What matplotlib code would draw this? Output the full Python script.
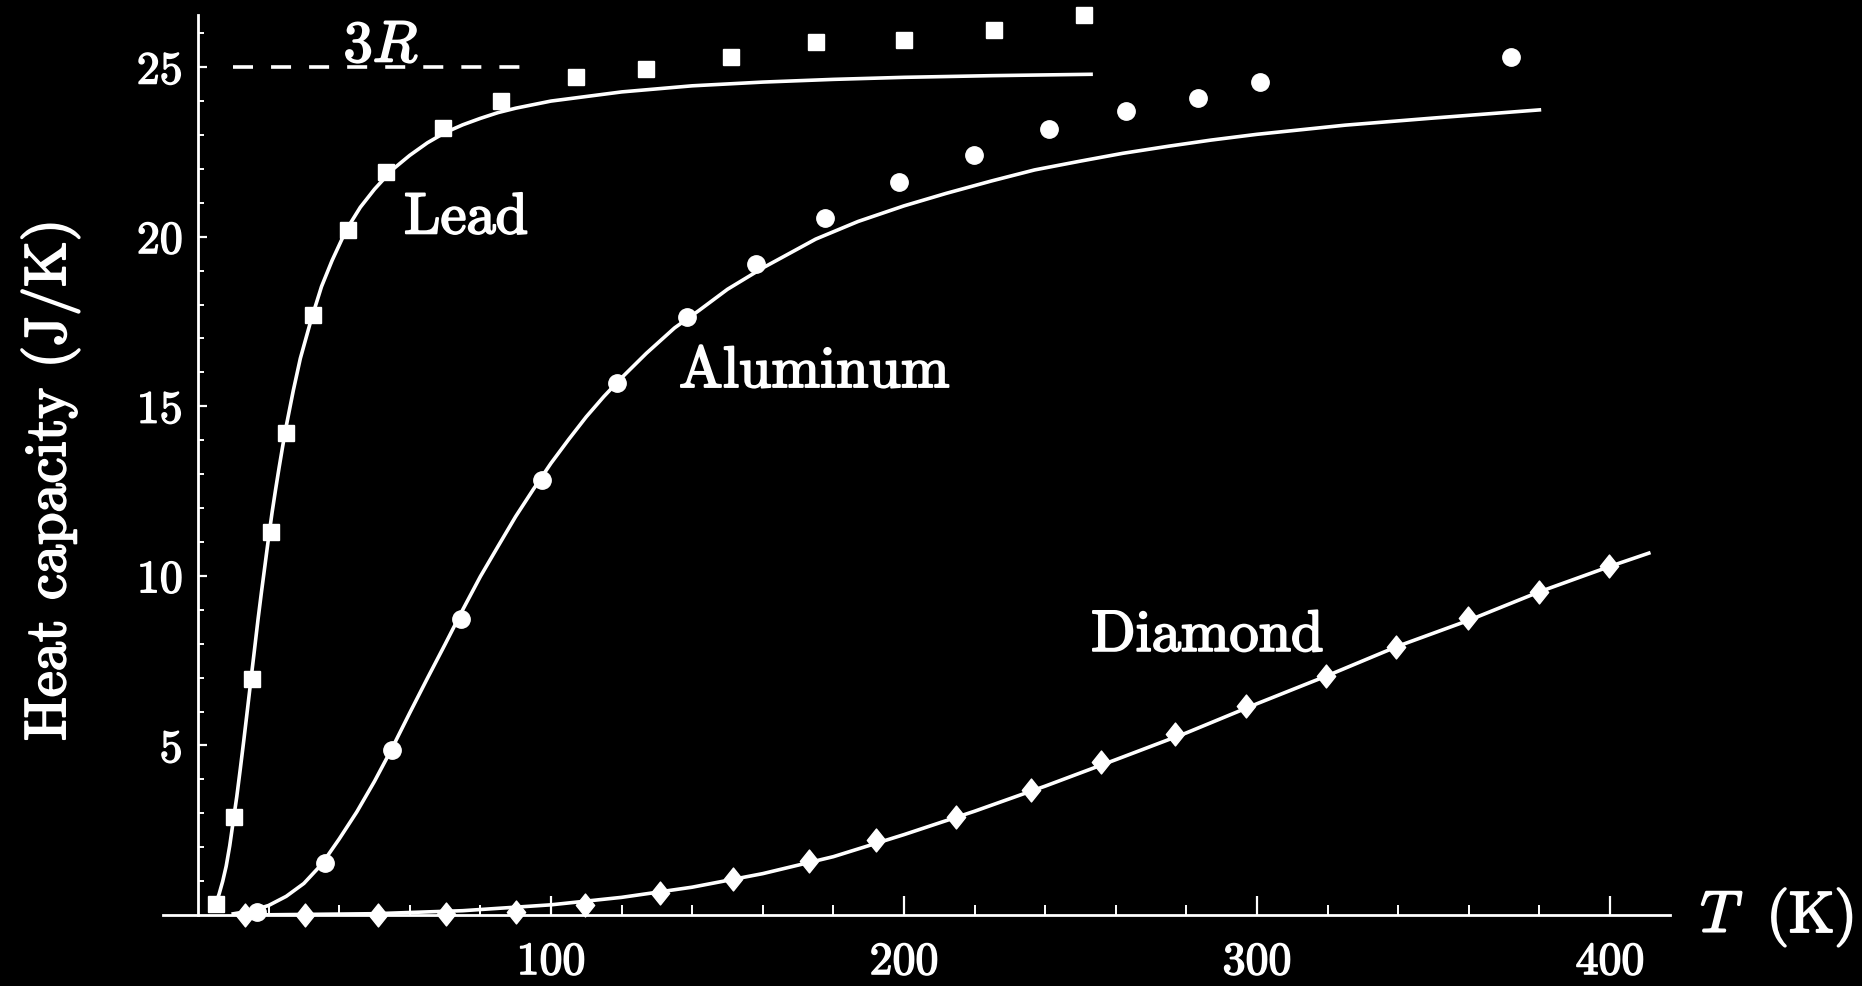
import matplotlib
matplotlib.use("Agg")
import matplotlib.pyplot as plt
import matplotlib.patheffects as pe
from matplotlib.path import Path
from matplotlib.ticker import FixedLocator

# Measured heat capacities (J/K per mole) versus temperature (K)
lead_T = [5.1, 10.2, 15.2, 20.6, 25, 32.7, 42.5, 53.2, 69.4, 85.8, 107, 127,
          151, 175, 200, 225.5, 251]
lead_C = [0.33, 2.9, 6.95, 11.3, 14.2, 17.7, 20.2, 21.9, 23.2, 24.0, 24.7,
          24.95, 25.3, 25.75, 25.8, 26.1, 26.55]

al_T = [16.7, 36, 54.9, 74.4, 97.6, 118.8, 138.4, 158, 177.7, 198.6, 219.8,
        241, 262.8, 283.3, 300.8, 372]
al_C = [0.1, 1.52, 4.87, 8.74, 12.84, 15.7, 17.63, 19.2, 20.54, 21.6, 22.4,
        23.17, 23.7, 24.08, 24.57, 25.3]

dia_T = [13.3, 30.4, 50.9, 70.4, 90.2, 109.7, 131, 151.5, 173, 192, 214.7,
         235.9, 255.7, 276.9, 297, 319.6, 339.5, 359.8, 380, 399.8]
dia_C = [0.0, 0.0, 0.0, 0.02, 0.1, 0.3, 0.66, 1.05, 1.6, 2.2, 2.9, 3.7, 4.5,
         5.35, 6.15, 7.05, 7.9, 8.75, 9.52, 10.3]

# Debye-model curves
lead_curve_T = [4, 4.5, 5, 5.5, 6, 7, 8, 9, 10, 11, 12, 13, 14, 15, 16, 17,
                18, 19, 20, 21, 22, 23, 24, 25, 27, 29, 32, 35, 38, 42, 46,
                50, 55, 60, 65, 70, 75, 80, 85, 90, 100, 120, 140, 160, 180,
                200, 225, 253]
lead_curve_C = [0.18, 0.26, 0.36, 0.47, 0.62, 0.99, 1.44, 2.04, 2.77, 3.49,
                4.31, 5.16, 6.04, 6.93, 7.81, 8.70, 9.53, 10.32, 11.12, 11.87,
                12.55, 13.2, 13.82, 14.41, 15.46, 16.41, 17.53, 18.53, 19.3,
                20.2, 20.87, 21.4, 21.97, 22.4, 22.77, 23.07, 23.3, 23.49,
                23.66, 23.79, 24.0, 24.27, 24.45, 24.56, 24.64, 24.7, 24.75,
                24.79]

al_curve_T = [10, 15, 20, 25, 30, 35, 40, 45, 50, 55, 60, 65, 70, 75, 80, 85,
              90, 95, 100, 105, 110, 115, 120, 127, 135, 142, 150, 160, 175,
              187, 200, 212, 225, 237, 250, 262, 275, 287, 300, 325, 350, 380]
al_curve_C = [0.035, 0.12, 0.28, 0.55, 0.93, 1.49, 2.24, 3.04, 3.94, 4.92,
              5.96, 6.98, 7.98, 9.0, 9.98, 10.87, 11.75, 12.55, 13.32, 14.02,
              14.69, 15.29, 15.84, 16.56, 17.31, 17.83, 18.45, 19.08, 19.93,
              20.45, 20.91, 21.28, 21.65, 21.97, 22.23, 22.46, 22.67, 22.85,
              23.02, 23.29, 23.5, 23.74]

dia_curve_T = [15, 50, 75, 100, 120, 140, 160, 180, 200, 220, 240, 260, 280,
               300, 320, 340, 360, 380, 400, 411]
dia_curve_C = [0.001, 0.038, 0.127, 0.30, 0.52, 0.82, 1.22, 1.72, 2.37, 3.06,
               3.80, 4.58, 5.37, 6.23, 7.06, 7.93, 8.69, 9.53, 10.28, 10.67]

# Classical limit 3R
three_R = 25.0
three_R_span = [10, 93]

x_major = [100, 200, 300, 400]
x_minor = [20, 40, 60, 80, 120, 140, 160, 180, 220, 240, 260, 280, 320, 340,
           360, 380]
y_major = [5, 10, 15, 20, 25]
y_minor = [v for v in range(1, 27) if v % 5 != 0]

plt.rcParams["font.family"] = ["cmr10", "DejaVu Serif"]
plt.rcParams["mathtext.fontset"] = "cm"
plt.rcParams["axes.formatter.use_mathtext"] = True
plt.rcParams["lines.scale_dashes"] = False

W, H = 1862, 987
fig = plt.figure(figsize=(W / 100, H / 100), dpi=100, facecolor="black")
x_left, x_right, y_axis, y_top = 163, 1670, 916, 15.6
ax = fig.add_axes([x_left / W, (H - y_axis) / H, (x_right - x_left) / W,
                   (y_axis - y_top) / H])
ax.set_facecolor("black")
ax.set_xlim(-9.9, 417)
ax.set_ylim(0, 26.55)

for s in ("top", "right"):
    ax.spines[s].set_visible(False)
ax.spines["left"].set_position(("data", 0))
ax.spines["bottom"].set_position(("data", 0))
for s in ("left", "bottom"):
    ax.spines[s].set_color("white")
    ax.spines[s].set_linewidth(2.0)

ax.xaxis.set_major_locator(FixedLocator(x_major))
ax.xaxis.set_minor_locator(FixedLocator(x_minor))
ax.yaxis.set_major_locator(FixedLocator(y_major))
ax.yaxis.set_minor_locator(FixedLocator(y_minor))
ax.set_xticklabels([str(v) for v in x_major])
ax.set_yticklabels([str(v) for v in y_major])

ax.tick_params(axis="x", which="major", direction="in", length=13.5,
               width=1.6, color="white", labelcolor="white", labelsize=33,
               pad=19)
ax.tick_params(axis="x", which="minor", direction="in", length=7,
               width=1.4, color="white")
ax.tick_params(axis="y", which="major", direction="in", length=6.5,
               width=1.6, color="white", labelcolor="white", labelsize=33,
               pad=11)
ax.tick_params(axis="y", which="minor", direction="in", length=4,
               width=1.4, color="white")

bold_small = [pe.withStroke(linewidth=1.1, foreground="white")]
bold_big = [pe.withStroke(linewidth=1.4, foreground="white")]
for lab in ax.get_xticklabels() + ax.get_yticklabels():
    lab.set_path_effects(bold_small)

lw = 2.6
ax.plot(lead_curve_T, lead_curve_C, color="white", lw=lw, zorder=3)
ax.plot(al_curve_T, al_curve_C, color="white", lw=lw, zorder=3)
ax.plot(dia_curve_T, dia_curve_C, color="white", lw=lw, zorder=3)
ax.plot(three_R_span, [three_R, three_R], color="white", lw=2.6,
        dashes=(14.4, 13), zorder=3)

diamond = Path([(0, 1), (0.8, 0), (0, -1), (-0.8, 0), (0, 1)],
               [Path.MOVETO, Path.LINETO, Path.LINETO, Path.LINETO,
                Path.CLOSEPOLY])
ax.plot(lead_T, lead_C, ls="none", marker="s", ms=11.5, mfc="white",
        mec="white", clip_on=False, zorder=4)
ax.plot(al_T, al_C, ls="none", marker="o", ms=12.5, mfc="white",
        mec="white", clip_on=False, zorder=4)
ax.plot(dia_T, dia_C, ls="none", marker=diamond, ms=16.5, mfc="white",
        mec="white", clip_on=False, zorder=4)

txt = dict(color="white", fontsize=42, path_effects=bold_big)
ax.text(51.9, 25.16, r"$3R$", ha="center", va="baseline", **txt)
ax.text(58.4, 20.1, "Lead", ha="left", va="baseline", **txt)
ax.text(136.3, 15.57, "Aluminum", ha="left", va="baseline", **txt)
ax.text(253, 7.79, "Diamond", ha="left", va="baseline", **txt)
ax.text(425.6, -0.5, r"$T$", ha="left", va="baseline", clip_on=False, **txt)
ax.text(444.3, -0.5, "(K)", ha="left", va="baseline", clip_on=False, **txt)
fig.text(50 / W, 1 - 481 / H, "Heat capacity (J/K)", rotation=90,
         ha="center", va="center", **txt)

fig.savefig("out.png", dpi=100, facecolor="black")
